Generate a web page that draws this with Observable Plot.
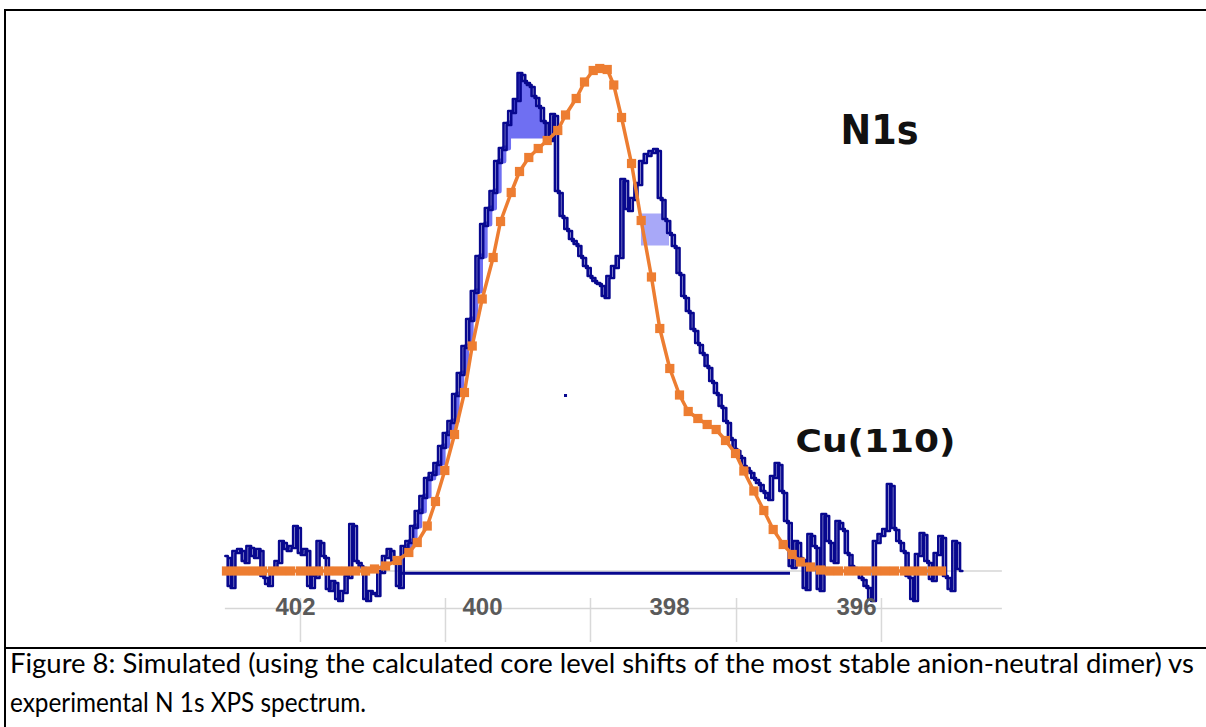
<!DOCTYPE html>
<html><head><meta charset="utf-8">
<script src="https://cdn.jsdelivr.net/npm/d3@7"></script>
<script src="https://cdn.jsdelivr.net/npm/@observablehq/plot@0.6"></script>
<style>
html,body{margin:0;padding:0;background:#fff;overflow:hidden;width:1206px;height:727px;}
#chart{position:absolute;left:0;top:0;}
.bline{position:absolute;background:#000;z-index:5;}
#caption{position:absolute;left:10px;top:643px;font-family:Lato,'Open Sans',sans-serif;font-size:24px;line-height:39px;color:#000;white-space:nowrap;}
#caption div{display:block;}
#caption span{display:inline-block;transform-origin:0 50%;}
</style></head><body>
<div id="chart"></div>
<div class="bline" style="left:4px;top:9px;width:1210px;height:2px"></div>
<div class="bline" style="left:4px;top:9px;width:2px;height:730px"></div>
<div class="bline" style="left:4px;top:647px;width:1210px;height:2px"></div>
<div id="caption">
  <div><span id="cap1">Figure 8: Simulated (using the calculated core level shifts of the most stable anion-neutral dimer) vs</span></div>
  <div><span id="cap2">experimental N 1s XPS spectrum.</span></div>
</div>
<script>
// ---- Experimental N 1s spectrum (binding energy, eV / intensity, arb.) ----
const energy = [
402.75,402.70,402.65,402.60,402.55,402.50,402.45,402.40,402.35,402.30,
402.25,402.20,402.15,402.10,402.05,402.00,401.95,401.90,401.85,401.80,
401.75,401.70,401.65,401.60,401.55,401.50,401.45,401.40,401.35,401.30,
401.25,401.20,401.15,401.10,401.05,401.00,400.95,400.90,400.85,400.80,
400.75,400.70,400.65,400.60,400.55,400.50,400.45,400.40,400.35,400.30,
400.25,400.20,400.15,400.10,400.05,400.00,399.95,399.90,399.85,399.80,
399.75,399.70,399.65,399.60,399.55,399.50,399.45,399.40,399.35,399.30,
399.25,399.20,399.15,399.10,399.05,399.00,398.95,398.90,398.85,398.80,
398.75,398.70,398.65,398.60,398.55,398.50,398.45,398.40,398.35,398.30,
398.25,398.20,398.15,398.10,398.05,398.00,397.95,397.90,397.85,397.80,
397.75,397.70,397.65,397.60,397.55,397.50,397.45,397.40,397.35,397.30,
397.25,397.20,397.15,397.10,397.05,397.00,396.95,396.90,396.85,396.80,
396.75,396.70,396.65,396.60,396.55,396.50,396.45,396.40,396.35,396.30,
396.25,396.20,396.15,396.10,396.05,396.00,395.95,395.90,395.85,395.80,
395.75,395.70,395.65,395.60,395.55,395.50,395.45,395.40,395.35,395.30,
395.25,395.20,395.15,395.10,395.05,395.00,394.95,394.90];
const counts = [
3.0,-3.0,4.0,4.4,2.0,5.0,3.0,4.4,-1.0,-2.6,
0,2.0,6.0,4.4,5.0,9.0,3.6,4.4,-3.0,-1.0,
6.0,3.0,-3.6,-2.0,-5.6,-4.0,-1.0,9.4,2.0,1.0,
-5.6,-4.0,-4.6,0,3.0,4.4,2.0,-3.0,5.0,6.0,
9.0,12.0,15.0,18.6,19.6,21.6,25.0,27.6,30.0,35.4,
39.6,45.0,50.4,56.0,63.0,69.4,72.6,76.0,82.0,84.6,
89.6,92.0,94.4,99.6,98.0,97.2,95.0,93.0,90.0,86.4,
91.4,76.0,71.0,68.4,66.4,65.4,63.0,61.0,59.0,58.0,
57.4,55.0,59.0,61.0,63.0,78.4,72.4,74.6,77.6,82.0,
83.4,84.0,84.4,74.6,70.4,67.6,65.0,59.6,55.0,52.0,
48.4,45.6,43.6,41.0,38.0,35.6,33.0,30.0,26.6,24.4,
23.0,21.0,20.0,18.6,17.6,16.0,14.6,19.0,21.6,16.0,
10.0,1.0,6.0,2.6,-3.4,7.4,5.0,-3.6,11.4,6.0,
2.0,10.0,8.4,3.6,1.0,0,-1.4,-3.0,-5.6,6.0,
7.4,8.4,17.4,8.6,6.0,4.0,-1.0,-5.6,3.4,7.6,
2.0,-1.6,3.6,7.0,-1.0,-3.6,6.0,0.4];

// ---- Simulated spectrum (orange, with square markers) ----
const simEnergy = [
402.738,402.642,402.545,402.449,402.353,402.246,402.150,402.053,401.947,401.850,
401.754,401.647,401.551,401.455,401.358,401.251,
401.155,401.037,400.912,400.788,400.698,400.591,400.503,400.403,400.299,400.193,
400.110,400.003,399.886,399.807,399.693,399.604,399.505,399.404,399.308,399.195,
399.112,398.998,398.909,398.816,398.746,398.666,398.596,398.513,398.406,398.303,
398.193,398.104,397.997,397.893,397.800,397.697,397.597,397.501,397.401,397.294,
397.205,397.098,396.991,396.891,396.784,396.688,396.599,396.492,396.385,
396.289,396.193,396.086,395.989,395.893,395.786,395.690,395.594,395.487,395.390,
395.294,395.187,395.091,394.995];
const simIntensity = [
0,0,0,0,0,0,0,0,0,0,
0,0,0,0,0,0,
0.4,1.0,2.1,3.7,5.7,9.0,13.9,20.1,27.3,35.7,
45.0,54.4,62.7,69.9,75.7,79.9,82.7,84.5,86.1,88.1,
91.2,94.5,97.8,100.1,100.5,100.3,97.2,90.7,81.5,70.1,
58.8,48.5,40.5,35.2,31.9,30.5,29.3,28.3,26.1,23.5,
20.0,16.0,12.1,8.3,5.3,3.3,1.8,0.8,0.2,
0,0,0,0,0,0,0,0,0,
0,0,0,0];

// ---- Axis / reference values ----
const xTicks = [402, 400, 398, 396];
const overlayGrid = [401.947, 400.396, 398.845, 397.283, 395.733]; // grid of the overlaid chart
const overlayLevels = [0, -7.5];
const overlaySpan = [402.75, 394.44];
const gridSpan = [-5.5, -14.3];
const instrumentBaseline = {e1: 400.877, e2: 396.706, v: -0.45};
const strayPoints = [{e: 399.112, v: 35.1}];
const labelTexts = ["N1s", "Cu(110)"];
const labelEnergy = [395.754, 395.797];
const labelLevel = [85.5, 23.9];
const peakFillFloor = 86.4;
const shoulderFill = [65, 71.4];

const spectrum = energy.map((e, i) => ({e, v: counts[i]}));
const sim = simEnergy.map((e, i) => ({e, v: simIntensity[i]}));
const labels = labelTexts.map((t, i) => ({t, e: labelEnergy[i], v: labelLevel[i]}));

const navy = "#08088f";
const light = "#6f6ff2";
const orange = "#ED7D31";

const chart = Plot.plot({
  width: 1206, height: 648,
  marginTop: 0, marginRight: 0, marginLeft: 0, marginBottom: 41,
  x: {domain: [402, 396], range: [295, 856]},
  y: {domain: [0, 100], range: [570.5, 70.5], axis: null},
  style: {background: "transparent", fontFamily: "'Liberation Sans', Arial, sans-serif", overflow: "visible"},
  marks: [
    Plot.ruleX(overlayGrid, {x: d => d, y1: gridSpan[0], y2: gridSpan[1], stroke: "#d9d9d9", strokeWidth: 1.5}),
    Plot.ruleY(overlayLevels, {y: d => d, x1: overlaySpan[0], x2: overlaySpan[1], stroke: "#d6d6d6", strokeWidth: 1.5}),
    // light blue component fills
    Plot.areaY(spectrum.slice(61, 70), {x: "e", y1: peakFillFloor, y2: "v", curve: "step", fill: light}),
    Plot.areaY(spectrum.slice(89, 96), {x: "e", y1: shoulderFill[0], y2: d => Math.min(d.v, shoulderFill[1]), curve: "step", fill: "#a8a8f8"}),
    Plot.lineY(spectrum.slice(38, 61), {x: "e", y: "v", curve: "step", stroke: light, strokeWidth: 5, dx: 5}),
    // instrument baseline
    Plot.ruleY([instrumentBaseline], {y: "v", x1: "e1", x2: "e2", stroke: navy, strokeWidth: 3}),
    // experimental spectrum (doubled trace)
    Plot.lineY(spectrum, {x: "e", y: "v", curve: "step", stroke: navy, strokeWidth: 2.6, dx: 3, dy: 2}),
    Plot.lineY(spectrum, {x: "e", y: "v", curve: "step", stroke: navy, strokeWidth: 2.6}),
    Plot.dot(strayPoints, {x: "e", y: "v", symbol: "square", r: 1.7, fill: navy}),
    // simulated spectrum
    Plot.lineY(sim, {x: "e", y: "v", stroke: orange, strokeWidth: 3.5}),
    Plot.dot(sim, {x: "e", y: "v", symbol: "square", r: 5.2, fill: orange}),
    // annotations
    Plot.text(labels.slice(0, 1), {x: "e", y: "v", text: "t", fontSize: 40, fontWeight: "bold", fill: "#111", lineAnchor: "bottom", fontFamily: "'DejaVu Sans', sans-serif"}),
    Plot.text(labels.slice(1), {x: "e", y: "v", text: "t", fontSize: 32, fontWeight: "bold", fill: "#111", lineAnchor: "bottom", fontFamily: "'DejaVu Sans', sans-serif"}),
    Plot.axisX(xTicks, {tickSize: 0, tickPadding: 0, lineAnchor: "middle", fontSize: 24, fontWeight: "bold", fill: "#5a5a5a", label: null})
  ]
});

chart.querySelectorAll("text").forEach(t => {
  const s = t.textContent;
  if (s === "N1s") { t.setAttribute("textLength", "78"); t.setAttribute("lengthAdjust", "spacingAndGlyphs"); }
  if (s === "Cu(110)") { t.setAttribute("textLength", "160"); t.setAttribute("lengthAdjust", "spacingAndGlyphs"); }
});
document.getElementById("chart").appendChild(chart);

// fit the caption: first line spans the cell width, second line matches its printed length
(function fitCaption() {
  const cap = document.getElementById("caption");
  const s1 = document.getElementById("cap1");
  const s2 = document.getElementById("cap2");
  const w = s1.getBoundingClientRect().width;
  if (w > 0) cap.style.fontSize = (24 * 1184 / w).toFixed(2) + "px";
  const w2 = s2.getBoundingClientRect().width;
  if (w2 > 0) s2.style.transform = "scaleX(" + (356 / w2).toFixed(4) + ")";
})();
</script>
</body></html>
